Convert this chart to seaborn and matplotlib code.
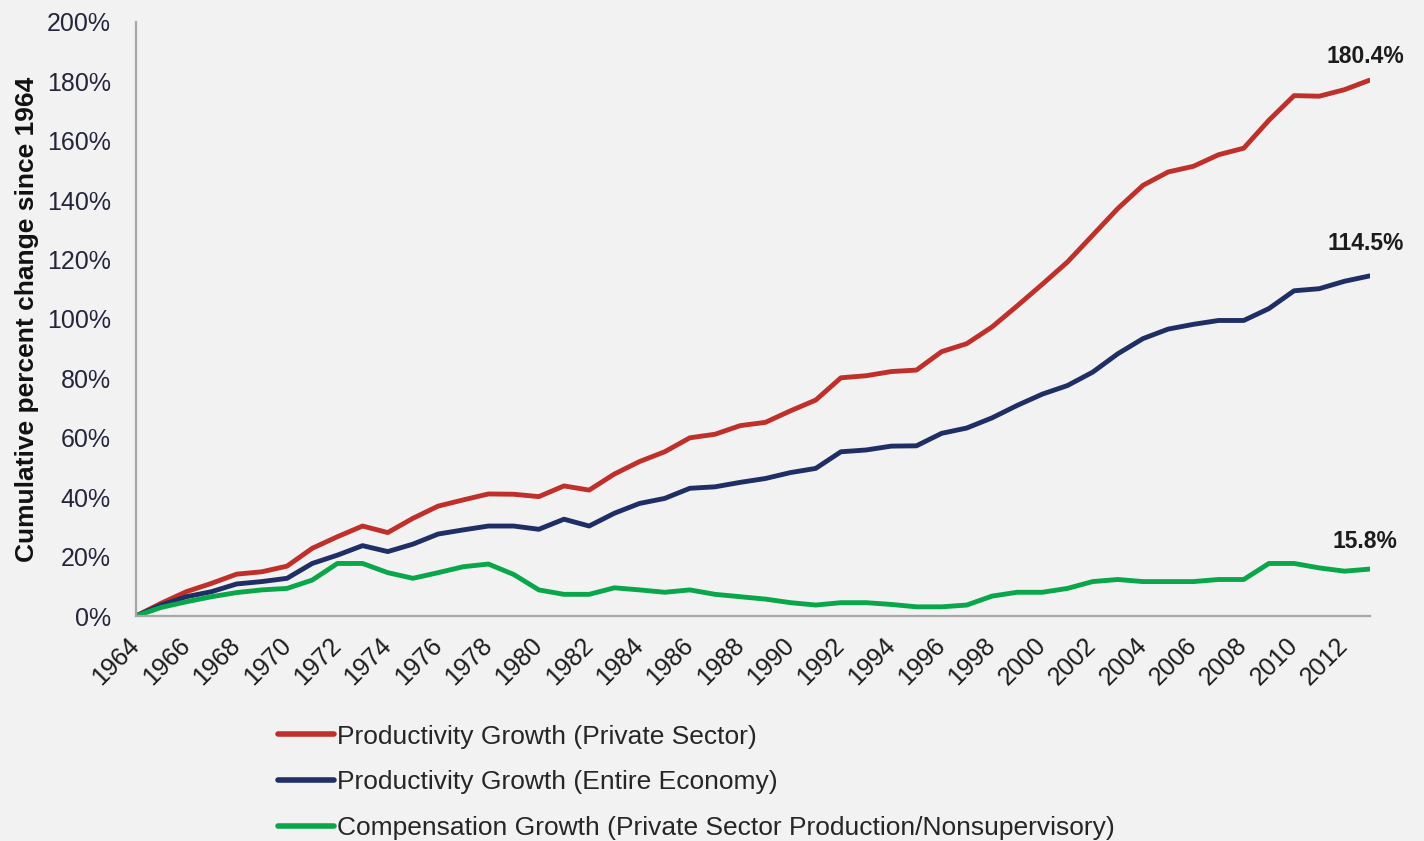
import matplotlib
matplotlib.use("Agg")
import matplotlib.pyplot as plt
import seaborn as sns
import pandas as pd
import numpy as np
from matplotlib.ticker import FuncFormatter, MultipleLocator

years = list(range(1964, 2014))

prod_private = [0.0, 4.3, 8.2, 11.0, 14.1, 14.9, 16.8, 22.8, 26.7, 30.3,
                28.1, 32.9, 37.0, 39.1, 41.1, 41.0, 40.2, 43.8, 42.4, 47.8,
                52.0, 55.3, 60.0, 61.2, 64.1, 65.2, 69.1, 72.7, 80.2, 80.9,
                82.3, 82.8, 89.0, 91.7, 97.3, 104.4, 111.7, 119.2, 128.2, 137.2,
                145.0, 149.5, 151.4, 155.3, 157.5, 166.9, 175.2, 175.0, 177.2, 180.4]

prod_economy = [0.0, 3.7, 6.5, 8.2, 10.8, 11.6, 12.7, 17.7, 20.5, 23.7,
                21.7, 24.2, 27.6, 29.0, 30.3, 30.3, 29.2, 32.6, 30.3, 34.6,
                37.9, 39.6, 43.0, 43.5, 45.0, 46.3, 48.3, 49.7, 55.3, 55.9,
                57.2, 57.3, 61.5, 63.3, 66.7, 70.9, 74.7, 77.6, 82.1, 88.3,
                93.4, 96.6, 98.2, 99.5, 99.5, 103.5, 109.5, 110.2, 112.7, 114.5]

compensation = [0.0, 2.9, 4.8, 6.5, 7.9, 8.8, 9.3, 12.1, 17.7, 17.7,
                14.6, 12.7, 14.6, 16.6, 17.5, 14.0, 8.8, 7.3, 7.3, 9.5,
                8.8, 8.0, 8.8, 7.3, 6.5, 5.7, 4.5, 3.7, 4.5, 4.5,
                3.9, 3.1, 3.1, 3.7, 6.7, 8.0, 8.0, 9.3, 11.6, 12.3,
                11.6, 11.6, 11.6, 12.3, 12.3, 17.7, 17.7, 16.2, 15.1, 15.8]

series_names = ["Productivity Growth (Private Sector)",
                "Productivity Growth (Entire Economy)",
                "Compensation Growth (Private Sector Production/Nonsupervisory)"]
end_labels = ["180.4%", "114.5%", "15.8%"]
colors = ["#c0302a", "#1f2f66", "#0aa64a"]

df = pd.concat([
    pd.DataFrame({"year": years, "value": vals, "series": name})
    for name, vals in zip(series_names, [prod_private, prod_economy, compensation])
])

sns.set_style("white")
plt.rcParams["font.family"] = ["Liberation Sans", "DejaVu Sans"]

bg = "#f2f2f2"
fig = plt.figure(figsize=(14.24, 8.41), dpi=100, facecolor=bg)
ax = fig.add_axes([0.0955, 0.2675, 0.8663, 0.7064])
ax.set_facecolor(bg)

sns.lineplot(data=df, x="year", y="value", hue="series", palette=colors,
             linewidth=3.5, ax=ax, legend=True)

ax.set_xlim(1964, 2013)
ax.set_ylim(0, 200)
ax.yaxis.set_major_locator(MultipleLocator(20))
ax.yaxis.set_major_formatter(FuncFormatter(lambda v, p: f"{v:.0f}%"))
ax.set_xticks(years)
ax.set_xticklabels([str(y) if (y - 1964) % 2 == 0 else "" for y in years],
                   rotation=45, ha="right", va="center", rotation_mode="anchor")

for s in ["top", "right"]:
    ax.spines[s].set_visible(False)
for s in ["left", "bottom"]:
    ax.spines[s].set_color("#a6a6a6")
    ax.spines[s].set_linewidth(1.6)

txtcol = "#25253c"
ax.tick_params(axis="y", direction="out", length=7, width=1.4, color="#a6a6a6",
               labelsize=18, labelcolor=txtcol, pad=11)
ax.tick_params(axis="x", direction="out", length=6.5, width=1.4, color="#a6a6a6",
               labelsize=18, labelcolor="#1c1c1c", pad=12)
ax.grid(False)

ax.set_xlabel("")
ax.set_ylabel("Cumulative percent change since 1964", fontsize=19, fontweight="bold",
              color="#111111", labelpad=6)

final_vals = [prod_private[-1], prod_economy[-1], compensation[-1]]
offsets = [17, 23, 20]
for lab, v, dy in zip(end_labels, final_vals, offsets):
    ax.annotate(lab, xy=(years[-1], v), xytext=(-3, dy), textcoords="offset points",
                ha="center", va="center", fontsize=16.5, fontweight="bold",
                color="#1c1c1c", annotation_clip=False)

handles, labels = ax.get_legend_handles_labels()
ax.legend_.remove()
leg = fig.legend(handles, labels, loc="upper left", bbox_to_anchor=(0.1875, 0.151),
                 frameon=False, ncol=1, handlelength=2.15, handletextpad=0.12,
                 labelspacing=0.82, borderaxespad=0,
                 prop={"family": ["Liberation Sans Narrow", "Liberation Sans"], "size": 19})
for line in leg.get_lines():
    line.set_linewidth(4)

fig.savefig("out.png", dpi=100, facecolor=bg)
